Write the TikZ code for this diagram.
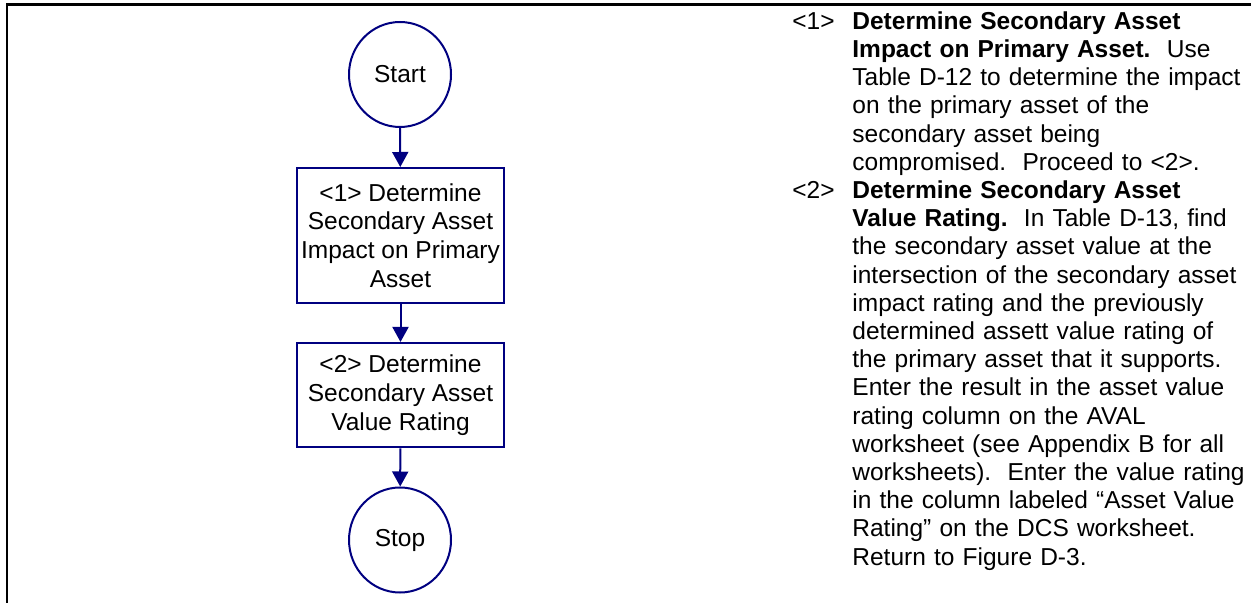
\documentclass[tikz,border=0pt]{standalone}
\usepackage{fontspec}
\setmainfont{Liberation Sans}
\usetikzlibrary{arrows.meta,shapes.geometric}
\definecolor{flownavy}{RGB}{0,0,128}

\begin{document}
\begin{tikzpicture}[x=0.5pt,y=-0.5pt,
  termnode/.style={draw=flownavy,line width=1pt,ellipse,minimum width=51pt,minimum height=52.5pt,inner sep=0pt,font=\fontsize{12.25}{14.1}\selectfont},
  stepbox/.style={draw=flownavy,line width=1pt,minimum width=103.5pt,inner sep=0pt,align=center,font=\fontsize{12.25}{14.4}\selectfont},
  flowarrow/.style={draw=flownavy,line width=1pt,-{Triangle[length=7.5pt,width=8pt]}},
  notetag/.style={anchor=base west,inner sep=0pt,font=\fontsize{12.25}{14.1}\selectfont},
  notetext/.style={anchor=base west,inner sep=0pt,text width=215pt,align=left,font=\fontsize{12.25}{14.1}\selectfont}]
  \useasboundingbox (0,0) rectangle (1251,603);
  \draw[line width=1.25pt] (1251,4.5) -- (7,4.5) -- (7,603);
  \node[termnode] (start) at (400,74.5){Start};
  \node[stepbox,minimum height=67.5pt] (step1) at (400.5,235.5){<1> Determine\\Secondary Asset\\Impact on Primary\\Asset};
  \node[stepbox,minimum height=52.25pt] (step2) at (400.5,395.2){<2> Determine\\Secondary Asset\\Value Rating};
  \node[termnode] (stop) at (400,540){Stop};
  \draw[flowarrow] (start) -- (step1);
  \draw[flowarrow] (step1) -- (step2);
  \draw[flowarrow] (step2) -- (stop);
  \node[notetag] (tag1) at (792,29.3){<1>};
  \node[notetext] (note1) at (852,29.3){\textbf{Determine Secondary Asset}\\
    \textbf{Impact on Primary Asset.}\ \ Use\\
    Table D-12 to determine the impact\\
    on the primary asset of the\\
    secondary asset being\\
    compromised.\ \ Proceed to <2>.};
  \node[notetag] (tag2) at (792,198.5){<2>};
  \node[notetext] (note2) at (852,198.5){\textbf{Determine Secondary Asset}\\
    \textbf{Value Rating.}\ \ In Table D-13, find\\
    the secondary asset value at the\\
    intersection of the secondary asset\\
    impact rating and the previously\\
    determined assett value rating of\\
    the primary asset that it supports.\\
    Enter the result in the asset value\\
    rating column on the AVAL\\
    worksheet (see Appendix B for all\\
    worksheets).\ \ Enter the value rating\\
    in the column labeled “Asset Value\\
    Rating” on the DCS worksheet.\\
    Return to Figure D-3.};
\end{tikzpicture}
\end{document}
